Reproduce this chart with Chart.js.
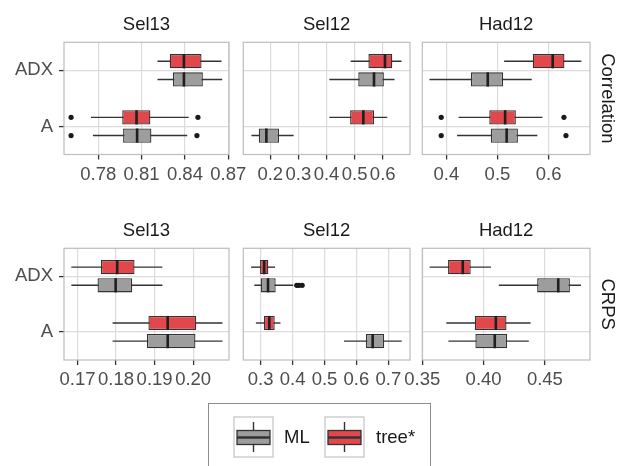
<!DOCTYPE html>
<html>
<head>
<meta charset="utf-8">
<script src="https://cdn.jsdelivr.net/npm/chart.js@4"></script>
<style>
  html, body { margin: 0; padding: 0; background: #fff; }
  #wrap { position: relative; width: 617px; height: 466px; overflow: hidden; }
  #wrap canvas.panel { position: absolute; left: 0; top: 0; }
  #legend { position: absolute; left: 208px; top: 403px; width: 223px; height: 90px; border: 1px solid #8c8c8c; box-sizing: border-box; }
  #legend canvas { position: absolute; top: 12px; }
  #legend span { position: absolute; top: 22px; font: 18.5px "Liberation Sans", Arial, sans-serif; color: #1a1a1a; line-height: 22px; }
</style>
</head>
<body>
<div id="wrap">
  <div id="legend">
    <canvas id="keyML" width="41" height="42" style="left:24px"></canvas><span style="left:75px">ML</span>
    <canvas id="keyTree" width="41" height="42" style="left:115px"></canvas><span style="left:167px">tree*</span>
  </div>
</div>
<script>
const groups = ["ADX", "A"];
const facetCols = ["Sel13", "Sel12", "Had12"];
const facetRows = ["Correlation", "CRPS"];

// boxes: [lower whisker, Q1, median, Q3, upper whisker], first ADX then A
const corSel13Tree = [[0.821, 0.8295, 0.8393, 0.8515, 0.8653], [0.775, 0.7966, 0.8065, 0.8161, 0.8426]];
const corSel13ML = [[0.821, 0.8317, 0.8393, 0.8524, 0.8658], [0.7763, 0.7972, 0.8069, 0.8168, 0.8416]];
const corSel12Tree = [[0.486, 0.549, 0.608, 0.634, 0.667], [0.41, 0.484, 0.531, 0.569, 0.616]];
const corSel12ML = [[0.41, 0.513, 0.569, 0.604, 0.642], [0.133, 0.159, 0.186, 0.231, 0.283]];
const corHad12Tree = [[0.513, 0.569, 0.608, 0.631, 0.664], [0.424, 0.484, 0.515, 0.536, 0.588]];
const corHad12ML = [[0.367, 0.448, 0.481, 0.511, 0.567], [0.421, 0.487, 0.518, 0.54, 0.578]];
const crpsSel13Tree = [[0.1684, 0.1761, 0.1803, 0.1848, 0.192], [0.1791, 0.1884, 0.1934, 0.2008, 0.2076]];
const crpsSel13ML = [[0.1684, 0.1752, 0.1799, 0.1842, 0.192], [0.1791, 0.188, 0.1934, 0.2006, 0.2076]];
const crpsSel12Tree = [[0.27, 0.298, 0.311, 0.324, 0.345], [0.285, 0.31, 0.327, 0.344, 0.362]];
const crpsSel12ML = [[0.28, 0.3, 0.323, 0.347, 0.402], [0.561, 0.63, 0.651, 0.687, 0.742]];
const crpsHad12Tree = [[0.356, 0.371, 0.383, 0.3895, 0.406], [0.3696, 0.3928, 0.41, 0.4187, 0.4383]];
const crpsHad12ML = [[0.4124, 0.4437, 0.4609, 0.4704, 0.4794], [0.3713, 0.3933, 0.4091, 0.4192, 0.4369]];

// outliers, first ADX then A
const corSel13TreeOut = [[], [0.7612, 0.849]];
const corSel13MLOut = [[], [0.7612, 0.8483]];
const corHad12TreeOut = [[], [0.39, 0.63]];
const corHad12MLOut = [[], [0.39, 0.634]];
const crpsSel12MLOut = [[0.413, 0.42, 0.43], []];
const noOut = [[], []];

// x tick labels and axis ranges
const corSel13Ticks = ["0.78", "0.81", "0.84", "0.87"];
const corSel12Ticks = ["0.2", "0.3", "0.4", "0.5", "0.6"];
const corHad12Ticks = ["0.4", "0.5", "0.6"];
const crpsSel13Ticks = ["0.17", "0.18", "0.19", "0.20"];
const crpsSel12Ticks = ["0.3", "0.4", "0.5", "0.6", "0.7"];
const crpsHad12Ticks = ["0.35", "0.40", "0.45"];
const corSel13Range = [0.7563, 0.8705];
const corSel12Range = [0.104, 0.697];
const corHad12Range = [0.353, 0.681];
const crpsSel13Range = [0.1665, 0.2093];
const crpsSel12Range = [0.2455, 0.768];
const crpsHad12Range = [0.35, 0.4868];

const RED = "#E2474C";
const GREY = "#9D9D9D";
const DARK = "#333333";
const FONT = '"Liberation Sans", Arial, sans-serif';

const colLeft = [64, 243.3, 422.3];
const colRight = [229, 410, 590];
const rowTop = [42.3, 248.3];
const rowBottom = [154.5, 360];

const panels = [
  { row: 0, col: 0, tree: corSel13Tree, ml: corSel13ML, treeOut: corSel13TreeOut, mlOut: corSel13MLOut, ticks: corSel13Ticks, range: corSel13Range },
  { row: 0, col: 1, tree: corSel12Tree, ml: corSel12ML, treeOut: noOut, mlOut: noOut, ticks: corSel12Ticks, range: corSel12Range },
  { row: 0, col: 2, tree: corHad12Tree, ml: corHad12ML, treeOut: corHad12TreeOut, mlOut: corHad12MLOut, ticks: corHad12Ticks, range: corHad12Range },
  { row: 1, col: 0, tree: crpsSel13Tree, ml: crpsSel13ML, treeOut: noOut, mlOut: noOut, ticks: crpsSel13Ticks, range: crpsSel13Range },
  { row: 1, col: 1, tree: crpsSel12Tree, ml: crpsSel12ML, treeOut: noOut, mlOut: crpsSel12MLOut, ticks: crpsSel12Ticks, range: crpsSel12Range },
  { row: 1, col: 2, tree: crpsHad12Tree, ml: crpsHad12ML, treeOut: noOut, mlOut: noOut, ticks: crpsHad12Ticks, range: crpsHad12Range },
];

// whiskers, panel border, medians, outliers, strip labels
const boxExtras = {
  id: "boxExtras",
  beforeDatasetsDraw(chart) {
    const { ctx, chartArea: a, scales: { x } } = chart;
    ctx.save();
    ctx.strokeStyle = "#BDBDBD";
    ctx.lineWidth = 1.2;
    ctx.strokeRect(a.left, a.top, a.right - a.left, a.bottom - a.top);
    ctx.strokeStyle = DARK;
    ctx.lineWidth = 1.4;
    chart.data.datasets.forEach((ds, d) => {
      chart.getDatasetMeta(d).data.forEach((bar, i) => {
        const s = ds.stats[i];
        ctx.beginPath();
        ctx.moveTo(x.getPixelForValue(s[0]), bar.y);
        ctx.lineTo(x.getPixelForValue(s[4]), bar.y);
        ctx.stroke();
      });
    });
    ctx.restore();
  },
  afterDatasetsDraw(chart) {
    const { ctx, scales: { x } } = chart;
    ctx.save();
    chart.data.datasets.forEach((ds, d) => {
      chart.getDatasetMeta(d).data.forEach((bar, i) => {
        const s = ds.stats[i];
        const mx = x.getPixelForValue(s[2]);
        ctx.strokeStyle = "#1f1f1f";
        ctx.lineWidth = 2.6;
        ctx.beginPath();
        ctx.moveTo(mx, bar.y - bar.height / 2);
        ctx.lineTo(mx, bar.y + bar.height / 2);
        ctx.stroke();
        ctx.fillStyle = "#1a1a1a";
        ds.out[i].forEach((v) => {
          ctx.beginPath();
          ctx.arc(x.getPixelForValue(v), bar.y, 2.6, 0, Math.PI * 2);
          ctx.fill();
        });
      });
    });
    ctx.restore();
  },
  afterDraw(chart, args, opts) {
    const { ctx, chartArea: a } = chart;
    ctx.save();
    ctx.font = "18.5px " + FONT;
    ctx.fillStyle = "#1a1a1a";
    ctx.textAlign = "center";
    ctx.textBaseline = "middle";
    ctx.fillText(opts.title, (a.left + a.right) / 2, a.top - 17);
    if (opts.side) {
      ctx.translate(a.right + 17, (a.top + a.bottom) / 2);
      ctx.rotate(Math.PI / 2);
      ctx.fillText(opts.side, 0, 0);
    }
    ctx.restore();
  },
};

const wrap = document.getElementById("wrap");

function makePanel(p) {
  const canvas = document.createElement("canvas");
  canvas.width = 617;
  canvas.height = 466;
  canvas.className = "panel";
  wrap.insertBefore(canvas, document.getElementById("legend"));
  const yW = p.col === 0 ? 60 : 0;
  const xH = 30;
  const tickVals = p.ticks.map(Number);
  return new Chart(canvas, {
    type: "bar",
    data: {
      labels: groups,
      datasets: [
        { label: "tree*", data: p.tree.map((s) => [s[1], s[3]]), backgroundColor: RED, stats: p.tree, out: p.treeOut },
        { label: "ML", data: p.ml.map((s) => [s[1], s[3]]), backgroundColor: GREY, stats: p.ml, out: p.mlOut },
      ],
    },
    options: {
      responsive: false,
      animation: false,
      indexAxis: "y",
      layout: {
        padding: { left: colLeft[p.col] - yW, right: 617 - colRight[p.col], top: rowTop[p.row], bottom: 466 - rowBottom[p.row] - xH },
      },
      datasets: {
        bar: { borderColor: DARK, borderWidth: 1.3, borderSkipped: false, categoryPercentage: 0.65, barPercentage: 0.78 },
      },
      plugins: {
        legend: { display: false },
        tooltip: { enabled: false },
        boxExtras: { title: facetCols[p.col], side: p.col === 2 ? facetRows[p.row] : null },
      },
      scales: {
        x: {
          type: "linear",
          min: p.range[0],
          max: p.range[1],
          afterBuildTicks: (s) => { s.ticks = tickVals.map((v) => ({ value: v })); },
          afterFit: (s) => { s.height = xH; },
          ticks: { callback: (v, i) => p.ticks[i], color: "#4D4D4D", font: { family: FONT, size: 18.5 }, padding: 4, maxRotation: 0, autoSkip: false },
          grid: { color: "#DCDCDC", lineWidth: 1.2, tickColor: DARK, tickLength: 5, tickWidth: 1.3 },
          border: { display: false },
        },
        y: {
          type: "category",
          offset: true,
          afterFit: (s) => { s.width = yW; },
          ticks: { display: p.col === 0, color: "#4D4D4D", font: { family: FONT, size: 18.5 }, padding: 6 },
          grid: { offset: false, color: "#DCDCDC", lineWidth: 1.2, tickColor: DARK, tickLength: 5, tickWidth: 1.3, drawTicks: p.col === 0 },
          border: { display: false },
        },
      },
    },
    plugins: [boxExtras],
  });
}

panels.forEach(makePanel);

// legend keys
function drawKey(id, fill) {
  const c = document.getElementById(id).getContext("2d");
  c.strokeStyle = "#CFCFCF";
  c.lineWidth = 1.5;
  c.strokeRect(1, 1, 39, 40);
  c.strokeStyle = DARK;
  c.lineWidth = 1.4;
  c.beginPath();
  c.moveTo(20.5, 6);
  c.lineTo(20.5, 36);
  c.stroke();
  c.fillStyle = fill;
  c.fillRect(4, 14.5, 33, 14);
  c.lineWidth = 1.3;
  c.strokeRect(4, 14.5, 33, 14);
  c.lineWidth = 2.4;
  c.beginPath();
  c.moveTo(4, 21.5);
  c.lineTo(37, 21.5);
  c.stroke();
}
drawKey("keyML", GREY);
drawKey("keyTree", RED);
</script>
</body>
</html>
